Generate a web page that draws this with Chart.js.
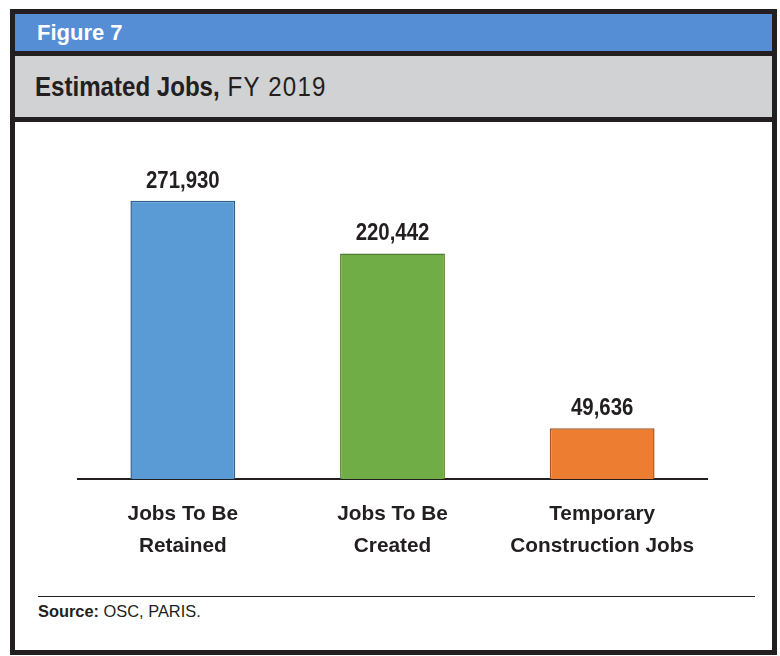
<!DOCTYPE html>
<html>
<head>
<meta charset="utf-8">
<script src="https://cdn.jsdelivr.net/npm/chart.js@4.4.1/dist/chart.umd.min.js"></script>
<style>
  body { margin: 0; background: #fff; width: 780px; height: 656px; position: relative; overflow: hidden; }
  .frame { position: absolute; left: 10px; top: 9px; width: 767px; height: 646px; border: 5px solid #231f20; box-sizing: border-box; }
  .fig { height: 37px; background: #558ed5; border-bottom: 5px solid #231f20; color: #fff;
         font: bold 22px "Liberation Sans", Arial, sans-serif; line-height: 38px; padding-left: 22px; }
  .title { height: 61px; background: #d1d2d4; border-bottom: 5px solid #231f20; color: #231f20;
           font: 28px "Liberation Sans", Arial, sans-serif; line-height: 62px; padding-left: 20px; }
  .title span { display: inline-block; transform: scaleX(0.86); transform-origin: left center; white-space: nowrap; }
  .title b { font-weight: bold; }
  .title i { font-style: normal; letter-spacing: 1.4px; }
  .rule { position: absolute; left: 38px; top: 596px; width: 717px; height: 1px; background: #231f20; }
  .source { position: absolute; left: 38px; top: 602px; font: 16.4px "Liberation Sans", Arial, sans-serif; color: #231f20; }
  #wrap { position: absolute; left: 0; top: 122px; width: 780px; height: 470px; }
</style>
</head>
<body>
<div class="frame">
  <div class="fig">Figure 7</div>
  <div class="title"><span><b>Estimated Jobs,</b><i> FY 2019</i></span></div>
</div>
<div class="rule"></div>
<div class="source"><b>Source:</b> OSC, PARIS.</div>
<div id="wrap"><canvas id="myChart"></canvas></div>
<script>
const categories = [['Jobs To Be', 'Retained'], ['Jobs To Be', 'Created'], ['Temporary', 'Construction Jobs']];
const jobs = [271930, 220442, 49636];
const barColors = ['#5b9bd5', '#70ad47', '#ed7d31'];
const edgeColors = ['#2f5f8f', '#4e7d32', '#a5561f'];

// value labels above each bar (narrowed like the original condensed type)
const valueLabels = {
  id: 'valueLabels',
  afterDatasetsDraw(chart) {
    const c = chart.ctx;
    const meta = chart.getDatasetMeta(0);
    meta.data.forEach((bar, i) => {
      c.save();
      c.font = 'bold 24px "Liberation Sans", Arial, sans-serif';
      c.fillStyle = '#231f20';
      c.textAlign = 'center';
      c.textBaseline = 'alphabetic';
      c.translate(bar.x, bar.y - 13);
      c.scale(0.85, 1);
      c.fillText(jobs[i].toLocaleString('en-US'), 0, 0);
      c.restore();
    });
  }
};

const ctx = document.getElementById('myChart');
const chart = new Chart(ctx, {
  type: 'bar',
  data: {
    labels: categories,
    datasets: [{
      data: jobs,
      backgroundColor: barColors,
      borderColor: edgeColors,
      borderWidth: 1.5,
      barPercentage: 0.5,
      categoryPercentage: 1
    }]
  },
  options: {
    responsive: true,
    maintainAspectRatio: false,
    animation: false,
    layout: { padding: { left: 78, right: 73, top: 50, bottom: 11 } },
    plugins: { legend: { display: false }, tooltip: { enabled: false } },
    scales: {
      x: {
        z: 1,
        grid: { display: false, drawTicks: false },
        border: { display: true, color: '#231f20', width: 2 },
        ticks: {
          padding: 19,
          color: '#231f20',
          font: { family: '"Liberation Sans", Arial, sans-serif', size: 20.8, weight: 'bold', lineHeight: 1.54 }
        }
      },
      y: { display: false, min: 0, max: 300000 }
    }
  },
  plugins: [valueLabels]
});
</script>
</body>
</html>
